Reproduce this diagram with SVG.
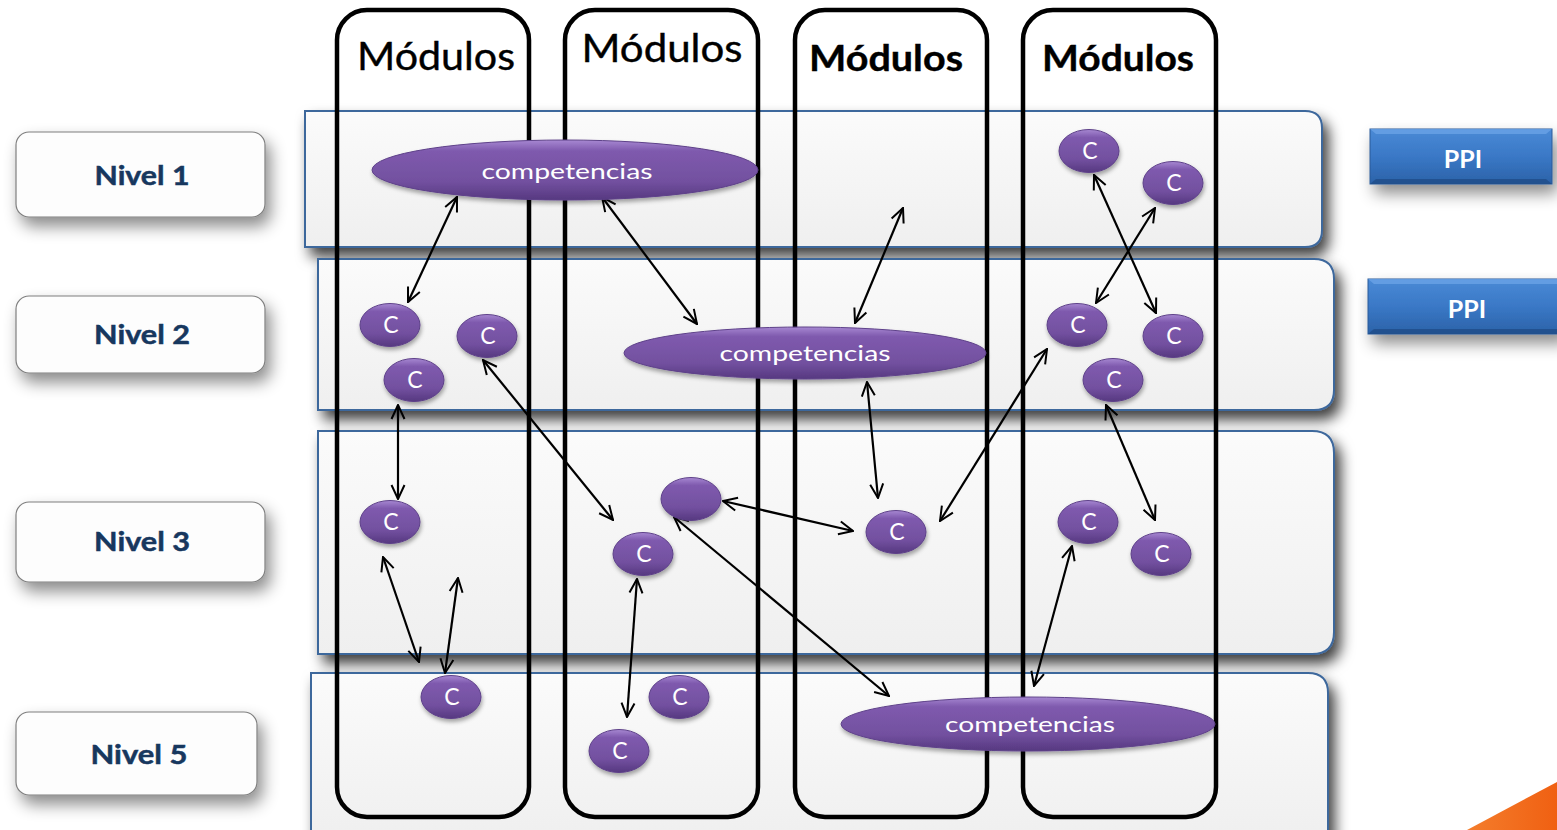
<svg xmlns="http://www.w3.org/2000/svg" width="1557" height="830" viewBox="0 0 1557 830">
<defs>
  <linearGradient id="rowFill" x1="0" y1="0" x2="0" y2="1">
    <stop offset="0" stop-color="#fbfbfb"/>
    <stop offset="1" stop-color="#efefef"/>
  </linearGradient>
  <linearGradient id="purple" x1="0" y1="0" x2="0" y2="1">
    <stop offset="0" stop-color="#a788d2"/>
    <stop offset="0.18" stop-color="#7f5aae"/>
    <stop offset="0.7" stop-color="#72509f"/>
    <stop offset="1" stop-color="#563880"/>
  </linearGradient>
  <linearGradient id="blue" x1="0" y1="0" x2="0" y2="1">
    <stop offset="0" stop-color="#4a8ad6"/>
    <stop offset="0.5" stop-color="#3a78c6"/>
    <stop offset="1" stop-color="#2b62a8"/>
  </linearGradient>
  <linearGradient id="orange" x1="0" y1="0" x2="1" y2="0">
    <stop offset="0" stop-color="#f47d2c"/>
    <stop offset="1" stop-color="#f06012"/>
  </linearGradient>
  <filter id="rowShadow" x="-5%" y="-20%" width="115%" height="150%">
    <feDropShadow dx="6" dy="9" stdDeviation="7" flood-color="#000" flood-opacity="0.75"/>
  </filter>
  <filter id="boxShadow" x="-20%" y="-30%" width="150%" height="190%">
    <feDropShadow dx="5" dy="9" stdDeviation="8" flood-color="#000" flood-opacity="0.45"/>
  </filter>
  <filter id="ellShadow" x="-20%" y="-30%" width="140%" height="170%">
    <feDropShadow dx="1" dy="3" stdDeviation="2" flood-color="#000" flood-opacity="0.35"/>
  </filter>
  <marker id="arr" viewBox="0 0 16 16" refX="15" refY="8" markerWidth="16" markerHeight="16" markerUnits="userSpaceOnUse" orient="auto-start-reverse">
    <path d="M1,1.5 L15,8 L1,14.5" fill="none" stroke="#000" stroke-width="2"/>
  </marker>
</defs>
<style>
  .row { fill: url(#rowFill); stroke: #3d679c; stroke-width: 2; filter: url(#rowShadow); }
  .col { fill: none; stroke: #000; stroke-width: 4.5; }
  .mod { font-family: Lato, "Liberation Sans", sans-serif; font-size: 39px; fill: #000; stroke: #000; stroke-width: 0.4; text-anchor: middle; }
  .modb { font-weight: bold; font-size: 37px; stroke-width: 0.4; }
  .nivel rect { fill: #fdfdfd; stroke: #7f7f7f; stroke-width: 1.2; filter: url(#boxShadow); }
  .nivel text { font-family: Lato, "Liberation Sans", sans-serif; font-weight: bold; font-size: 27px; fill: #17375e; stroke: #17375e; stroke-width: 0.5; text-anchor: middle; }
  .ppi rect { fill: url(#blue); stroke: #2a5a98; stroke-width: 1; filter: url(#boxShadow); }
  .ppi text { font-family: Lato, "Liberation Sans", sans-serif; font-weight: bold; font-size: 25px; fill: #fff; text-anchor: middle; }
  .ell ellipse { fill: url(#purple); stroke: #5e4189; stroke-width: 1; filter: url(#ellShadow); }
  .ell text { font-family: Lato, "Liberation Sans", sans-serif; font-size: 23px; fill: #fff; text-anchor: middle; }
  .comp text { font-size: 22px; }
  .conn line { stroke: #000; stroke-width: 2.2; marker-start: url(#arr); marker-end: url(#arr); }
</style>

<rect x="0" y="0" width="1557" height="830" fill="#ffffff"/>
<path d="M1467,830 L1557,782 L1557,830 Z" fill="url(#orange)"/>

<!-- level rows -->
<g id="rows">
  <path id="row1" class="row" d="M305,111 H1305 Q1322,111 1322,128 V230 Q1322,247 1305,247 H305 Z"/>
  <path id="row2" class="row" d="M318,259 H1314 Q1334,259 1334,279 V390 Q1334,410 1314,410 H318 Z"/>
  <path id="row3" class="row" d="M318,431 H1312 Q1334,431 1334,453 V632 Q1334,654 1312,654 H318 Z"/>
  <path id="row5" class="row" d="M311,673 H1308 Q1328,673 1328,693 V840 H311 Z"/>
</g>

<!-- module columns -->
<g id="col1"><rect class="col" x="337" y="10" width="192" height="807" rx="30"/><text class="mod" x="436" y="70" textLength="158" lengthAdjust="spacingAndGlyphs">Módulos</text></g>
<g id="col2"><rect class="col" x="565" y="10" width="193" height="807" rx="30"/><text class="mod" x="662" y="62" textLength="161" lengthAdjust="spacingAndGlyphs">Módulos</text></g>
<g id="col3"><rect class="col" x="795" y="10" width="192" height="807" rx="30"/><text class="mod modb" x="886" y="71" textLength="154" lengthAdjust="spacingAndGlyphs">Módulos</text></g>
<g id="col4"><rect class="col" x="1023" y="10" width="193" height="807" rx="30"/><text class="mod modb" x="1118" y="71" textLength="152" lengthAdjust="spacingAndGlyphs">Módulos</text></g>

<!-- Nivel labels -->
<g id="nivel1" class="nivel"><rect x="16" y="132" width="249" height="85" rx="13"/><text x="142" y="185" textLength="95" lengthAdjust="spacingAndGlyphs">Nivel 1</text></g>
<g id="nivel2" class="nivel"><rect x="16" y="296" width="249" height="77" rx="13"/><text x="142" y="344" textLength="96" lengthAdjust="spacingAndGlyphs">Nivel 2</text></g>
<g id="nivel3" class="nivel"><rect x="16" y="502" width="249" height="80" rx="13"/><text x="142" y="551" textLength="96" lengthAdjust="spacingAndGlyphs">Nivel 3</text></g>
<g id="nivel5" class="nivel"><rect x="16" y="712" width="241" height="83" rx="13"/><text x="139" y="764" textLength="97" lengthAdjust="spacingAndGlyphs">Nivel 5</text></g>

<!-- PPI boxes -->
<g id="ppi1" class="ppi"><rect x="1370" y="129" width="182" height="55"/><path d="M1370,129 H1552 L1546,134 H1376 Z" fill="#6aa3e6" opacity="0.8"/><path d="M1370,184 H1552 L1546,179 H1376 Z" fill="#1f4c88" opacity="0.8"/><text x="1463" y="168">PPI</text></g>
<g id="ppi2" class="ppi"><rect x="1368" y="279" width="195" height="55"/><path d="M1368,279 H1563 L1557,284 H1374 Z" fill="#6aa3e6" opacity="0.8"/><path d="M1368,334 H1563 L1557,329 H1374 Z" fill="#1f4c88" opacity="0.8"/><text x="1467" y="318">PPI</text></g>

<!-- connectors -->
<g id="connectors" class="conn">
  <line x1="457" y1="197" x2="408" y2="302"/>
  <line x1="602" y1="197" x2="697" y2="324"/>
  <line x1="903" y1="208" x2="855" y2="323"/>
  <line x1="1094" y1="175" x2="1156" y2="313"/>
  <line x1="1155" y1="208" x2="1096" y2="303"/>
  <line x1="398" y1="405" x2="398" y2="499"/>
  <line x1="483" y1="360" x2="613" y2="520"/>
  <line x1="867" y1="382" x2="878" y2="498"/>
  <line x1="1047" y1="349" x2="940" y2="521"/>
  <line x1="1106" y1="405" x2="1155" y2="520"/>
  <line x1="723" y1="501" x2="853" y2="531"/>
  <line x1="674" y1="517" x2="889" y2="696"/>
  <line x1="383" y1="557" x2="419" y2="662"/>
  <line x1="458" y1="578" x2="445" y2="673"/>
  <line x1="637" y1="579" x2="627" y2="717"/>
  <line x1="1072" y1="546" x2="1034" y2="686"/>
</g>

<!-- competencias ellipses -->
<g id="comp1" class="ell comp"><ellipse cx="565" cy="170" rx="193" ry="30"/><text x="567" y="179" textLength="171" lengthAdjust="spacingAndGlyphs">competencias</text></g>
<g id="comp2" class="ell comp"><ellipse cx="805" cy="353" rx="181" ry="26"/><text x="805" y="361" textLength="171" lengthAdjust="spacingAndGlyphs">competencias</text></g>
<g id="comp5" class="ell comp"><ellipse cx="1028" cy="724" rx="187" ry="27"/><text x="1030" y="732" textLength="170" lengthAdjust="spacingAndGlyphs">competencias</text></g>

<!-- C ellipses -->
<g id="c1a" class="ell"><ellipse cx="1089" cy="151" rx="30" ry="21.5"/><text x="1090" y="159">C</text></g>
<g id="c1b" class="ell"><ellipse cx="1173" cy="183" rx="30" ry="21.5"/><text x="1174" y="191">C</text></g>
<g id="c2a" class="ell"><ellipse cx="390" cy="325" rx="30" ry="21.5"/><text x="391" y="333">C</text></g>
<g id="c2b" class="ell"><ellipse cx="487" cy="336" rx="30" ry="21.5"/><text x="488" y="344">C</text></g>
<g id="c2c" class="ell"><ellipse cx="414" cy="380" rx="30" ry="21.5"/><text x="415" y="388">C</text></g>
<g id="c2d" class="ell"><ellipse cx="1077" cy="325" rx="30" ry="21.5"/><text x="1078" y="333">C</text></g>
<g id="c2e" class="ell"><ellipse cx="1173" cy="336" rx="30" ry="21.5"/><text x="1174" y="344">C</text></g>
<g id="c2f" class="ell"><ellipse cx="1113" cy="380" rx="30" ry="21.5"/><text x="1114" y="388">C</text></g>
<g id="c3a" class="ell"><ellipse cx="390" cy="522" rx="30" ry="21.5"/><text x="391" y="530">C</text></g>
<g id="c3b" class="ell"><ellipse cx="643" cy="554" rx="30" ry="21.5"/><text x="644" y="562">C</text></g>
<g id="c3c" class="ell"><ellipse cx="691" cy="499" rx="30" ry="21.5"/></g>
<g id="c3d" class="ell"><ellipse cx="896" cy="532" rx="30" ry="21.5"/><text x="897" y="540">C</text></g>
<g id="c3e" class="ell"><ellipse cx="1088" cy="522" rx="30" ry="21.5"/><text x="1089" y="530">C</text></g>
<g id="c3f" class="ell"><ellipse cx="1161" cy="554" rx="30" ry="21.5"/><text x="1162" y="562">C</text></g>
<g id="c5a" class="ell"><ellipse cx="451" cy="697" rx="30" ry="21.5"/><text x="452" y="705">C</text></g>
<g id="c5b" class="ell"><ellipse cx="679" cy="697" rx="30" ry="21.5"/><text x="680" y="705">C</text></g>
<g id="c5c" class="ell"><ellipse cx="619" cy="751" rx="30" ry="21.5"/><text x="620" y="759">C</text></g>
</svg>
